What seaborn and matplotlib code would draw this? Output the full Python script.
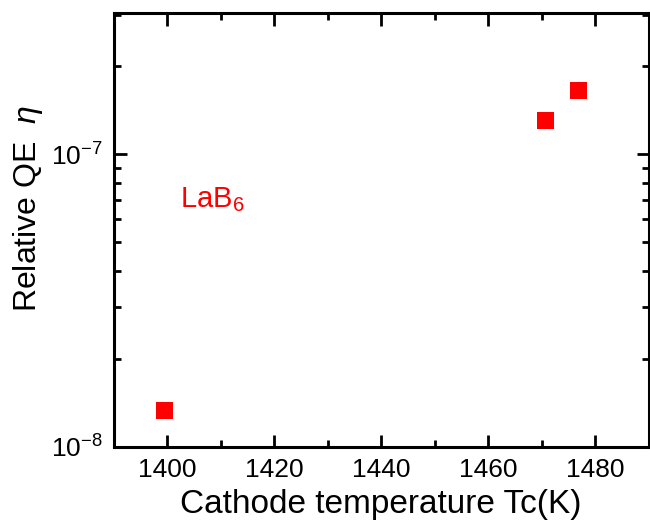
import numpy as np
import pandas as pd
import matplotlib
matplotlib.use("Agg")
import matplotlib.pyplot as plt
import seaborn as sns
from matplotlib.ticker import LogLocator, MultipleLocator, NullFormatter

# Data
cathode_temp = [1399.5, 1470.7, 1476.8]
relative_qe = [1.33e-8, 1.31e-7, 1.66e-7]

df = pd.DataFrame({"Tc": cathode_temp, "QE": relative_qe})

sns.set_style("white")
plt.rcParams['font.family'] = ['Liberation Sans', 'DejaVu Sans']
plt.rcParams['mathtext.fontset'] = 'custom'
plt.rcParams['mathtext.rm'] = 'Liberation Sans'
plt.rcParams['mathtext.it'] = 'Liberation Sans:italic'
plt.rcParams['text.color'] = 'black'
plt.rcParams['axes.labelcolor'] = 'black'

fig = plt.figure(figsize=(6.5, 5.27), dpi=100)
ax = fig.add_axes([0.175, 0.152, 0.823, 0.823])

sns.scatterplot(data=df, x="Tc", y="QE", marker="s", s=150, color="red",
                edgecolor="none", ax=ax)

ax.set_yscale("log")
ax.set_xlim(1390, 1490)
ax.set_ylim(1e-8, 3.04e-7)
ax.xaxis.set_major_locator(MultipleLocator(20))
ax.xaxis.set_minor_locator(MultipleLocator(10))
ax.yaxis.set_major_locator(LogLocator(base=10))
ax.yaxis.set_minor_locator(LogLocator(base=10, subs=np.arange(2, 10)))
ax.yaxis.set_minor_formatter(NullFormatter())

for sp in ax.spines.values():
    sp.set_linewidth(2.2)
    sp.set_color("black")

ax.tick_params(which="both", direction="in", top=True, right=True,
               bottom=True, left=True, width=2, colors="black",
               labelcolor="black")
ax.tick_params(which="major", length=9, labelsize=19, pad=8)
ax.tick_params(which="minor", length=5)

ax.set_xlabel("Cathode temperature Tc(K)", fontsize=24, labelpad=5)
ax.set_ylabel(r"Relative QE  $\eta$", fontsize=23)
ax.yaxis.set_label_coords(-0.129, 0.55)

ax.text(1402.4, 7.0e-8, r"LaB$_{\mathregular{6}}$", color="red", fontsize=21,
        ha="left", va="center")

fig.savefig("out.png", dpi=100)
